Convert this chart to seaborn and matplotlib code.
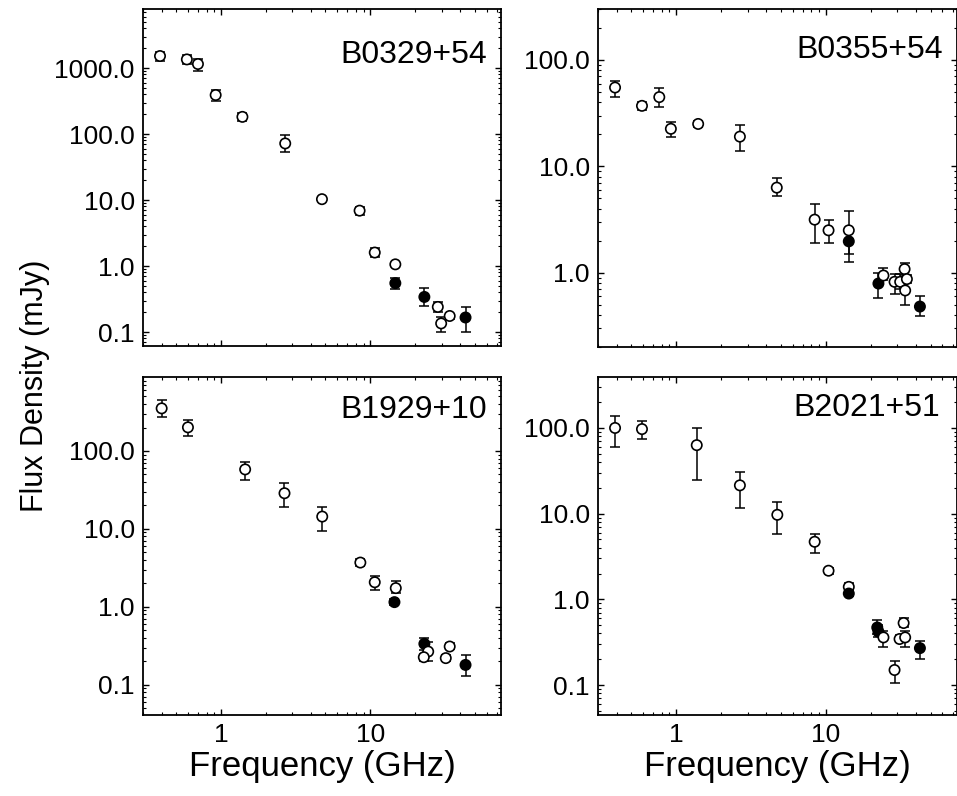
import numpy as np
import pandas as pd
import matplotlib
matplotlib.use("Agg")
import matplotlib.pyplot as plt
import seaborn as sns
from matplotlib.ticker import FixedLocator, FixedFormatter, LogLocator, NullFormatter

# ---------------- data ----------------
names = ["B0329+54", "B0355+54", "B1929+10", "B2021+51"]

f_0329 = [0.39, 0.59, 0.70, 0.92, 1.39, 2.69, 4.74, 8.47, 10.7, 14.7, 14.7, 23.0, 28.3, 29.8, 34.0, 43.4]
s_0329 = [1520, 1350, 1150, 390, 182, 72, 10.3, 6.9, 1.6, 1.06, 0.55, 0.34, 0.24, 0.135, 0.175, 0.166]
lo_0329 = [1300, 1150, 900, 320, 160, 53, 9.5, 6.0, 1.35, 1.0, 0.45, 0.25, 0.2, 0.1, 0.16, 0.10]
hi_0329 = [1750, 1550, 1380, 470, 205, 95, 11.0, 7.8, 1.9, 1.1, 0.66, 0.46, 0.29, 0.17, 0.19, 0.24]
fill_0329 = [0, 0, 0, 0, 0, 0, 0, 0, 0, 0, 1, 1, 0, 0, 0, 1]

f_0355 = [0.39, 0.59, 0.77, 0.92, 1.40, 2.66, 4.69, 8.4, 10.4, 14.2, 14.2, 22.4, 24.2, 28.7, 31.3, 33.5, 34.7, 33.8, 42.4]
s_0355 = [55, 37, 44.7, 22.5, 25, 19, 6.3, 3.15, 2.5, 2.5, 1.97, 0.79, 0.94, 0.82, 0.82, 1.08, 0.87, 0.68, 0.48]
lo_0355 = [45, 34, 36, 19, 23.5, 14, 5.2, 1.9, 1.9, 1.5, 1.27, 0.58, 0.85, 0.63, 0.7, 0.95, 0.8, 0.5, 0.39]
hi_0355 = [64, 40, 54, 26, 26.5, 24.4, 7.7, 4.4, 3.1, 3.8, 2.4, 0.99, 1.1, 0.97, 0.97, 1.24, 0.95, 0.85, 0.6]
fill_0355 = [0, 0, 0, 0, 0, 0, 0, 0, 0, 0, 1, 1, 0, 0, 0, 0, 0, 0, 1]

f_1929 = [0.40, 0.60, 1.45, 2.66, 4.76, 8.57, 10.7, 14.8, 14.5, 23.0, 24.4, 22.8, 34.0, 32.0, 43.4]
s_1929 = [352, 201, 58, 28.7, 14.4, 3.7, 2.07, 1.74, 1.15, 0.336, 0.267, 0.226, 0.31, 0.22, 0.18]
lo_1929 = [275, 155, 43, 19, 9.3, 3.3, 1.65, 1.5, 1.05, 0.28, 0.2, 0.2, 0.29, 0.2, 0.13]
hi_1929 = [450, 250, 73, 38.5, 19.3, 4.1, 2.5, 2.15, 1.25, 0.4, 0.35, 0.25, 0.34, 0.24, 0.24]
fill_1929 = [0, 0, 0, 0, 0, 0, 0, 0, 1, 1, 0, 0, 0, 0, 1]

f_2021 = [0.39, 0.59, 1.37, 2.66, 4.73, 8.4, 10.4, 14.2, 14.2, 22.0, 22.4, 24.2, 28.7, 31.0, 33.0, 33.8, 42.4]
s_2021 = [100, 97, 63, 21.4, 9.7, 4.7, 2.16, 1.4, 1.17, 0.47, 0.42, 0.36, 0.15, 0.345, 0.53, 0.36, 0.27]
lo_2021 = [60, 74, 25, 11.5, 5.8, 3.5, 2.0, 1.25, 1.1, 0.39, 0.36, 0.28, 0.105, 0.32, 0.48, 0.28, 0.2]
hi_2021 = [139, 122, 100, 31, 13.8, 5.8, 2.3, 1.55, 1.25, 0.57, 0.5, 0.43, 0.19, 0.38, 0.6, 0.43, 0.33]
fill_2021 = [0, 0, 0, 0, 0, 0, 0, 0, 1, 1, 1, 0, 0, 0, 0, 0, 1]

x_ticks = [1, 10]
x_ticklabels = ["1", "10"]
y_ticks = [
    [0.1, 1, 10, 100, 1000],
    [1, 10, 100],
    [0.1, 1, 10, 100],
    [0.1, 1, 10, 100],
]
y_ticklabels = [
    ["0.1", "1.0", "10.0", "100.0", "1000.0"],
    ["1.0", "10.0", "100.0"],
    ["0.1", "1.0", "10.0", "100.0"],
    ["0.1", "1.0", "10.0", "100.0"],
]
ylims = [(0.0614, 7840), (0.20, 301), (0.041, 889), (0.0448, 393)]
xlim = (0.30, 75.0)

panels = [
    (f_0329, s_0329, lo_0329, hi_0329, fill_0329),
    (f_0355, s_0355, lo_0355, hi_0355, fill_0355),
    (f_1929, s_1929, lo_1929, hi_1929, fill_1929),
    (f_2021, s_2021, lo_2021, hi_2021, fill_2021),
]

# ---------------- style ----------------
sns.set_style("ticks")
plt.rcParams["font.family"] = ["Liberation Sans", "DejaVu Sans"]
plt.rcParams["text.color"] = "black"
plt.rcParams["axes.labelcolor"] = "black"
plt.rcParams["xtick.color"] = "black"
plt.rcParams["ytick.color"] = "black"
plt.rcParams["axes.edgecolor"] = "black"

W, H = 957, 796
fig = plt.figure(figsize=(W / 100, H / 100), dpi=100)

# axes rectangles in pixel coords (left, top, right, bottom)
rects = [
    (143, 9, 501, 346),
    (598, 9, 957, 347),
    (143, 377, 501, 715),
    (598, 377, 957, 715),
]
title_pos = [(487, 55), (943, 50), (487, 410), (940, 408)]

for i, ((l, t, r, b), (f, s, lo, hi, fl)) in enumerate(zip(rects, panels)):
    ax = fig.add_axes([l / W, 1 - b / H, (r - l) / W, (b - t) / H])
    df = pd.DataFrame({"freq": f, "flux": s, "lo": lo, "hi": hi,
                       "kind": ["filled" if v else "open" for v in fl]})
    ax.set_xscale("log")
    ax.set_yscale("log")
    yerr = np.vstack([df["flux"] - df["lo"], df["hi"] - df["flux"]])
    ax.errorbar(df["freq"], df["flux"], yerr=yerr, fmt="none", ecolor="black",
                elinewidth=1.1, capsize=3.6, capthick=1.1, zorder=2)
    sns.scatterplot(data=df, x="freq", y="flux", hue="kind",
                    palette={"open": "white", "filled": "black"},
                    edgecolor="black", linewidth=1.2, s=55, marker="o",
                    legend=False, ax=ax, zorder=3)
    ax.set_xlim(*xlim)
    ax.set_ylim(*ylims[i])
    ax.xaxis.set_major_locator(FixedLocator(x_ticks))
    ax.xaxis.set_major_formatter(FixedFormatter(x_ticklabels))
    ax.xaxis.set_minor_locator(LogLocator(base=10, subs=np.arange(2, 10)))
    ax.xaxis.set_minor_formatter(NullFormatter())
    ax.yaxis.set_major_locator(FixedLocator(y_ticks[i]))
    ax.yaxis.set_major_formatter(FixedFormatter(y_ticklabels[i]))
    ax.yaxis.set_minor_locator(LogLocator(base=10, subs=np.arange(2, 10)))
    ax.yaxis.set_minor_formatter(NullFormatter())
    ax.tick_params(which="both", direction="in", top=True, right=True,
                   color="black", labelcolor="black")
    ax.tick_params(which="major", length=4, width=1, labelsize=19, pad=6)
    ax.tick_params(which="minor", length=2.2, width=0.8)
    for sp in ax.spines.values():
        sp.set_visible(True)
        sp.set_linewidth(1.3)
        sp.set_color("black")
    ax.set_ylabel("")
    if i >= 2:
        ax.set_xlabel("Frequency (GHz)", fontsize=25, labelpad=2, color="black")
    else:
        ax.set_xlabel("")
        ax.tick_params(axis="x", which="both", labelbottom=False)
    tx, ty = title_pos[i]
    fig.text(tx / W, 1 - ty / H, names[i], ha="right", va="center",
             fontsize=23, color="black")

fig.text(35 / W, 1 - 386 / H, "Flux Density (mJy)", rotation=90,
         ha="center", va="center", fontsize=22, color="black")

fig.savefig("out.png", dpi=100)
